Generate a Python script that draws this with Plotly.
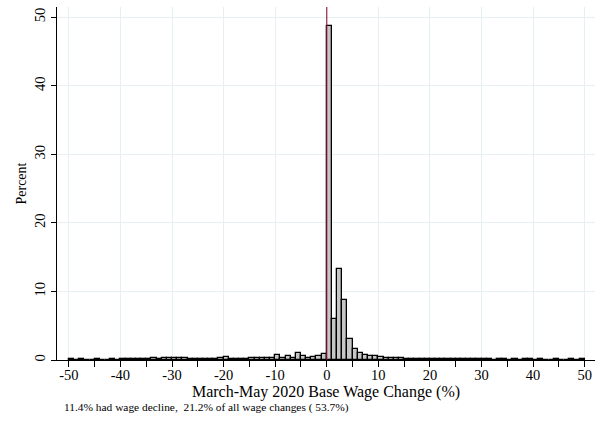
import plotly.graph_objects as go

# histogram of base wage changes, 1-point bins from -50 to 50
bin_left = list(range(-50, 50))
percent = [
    0.1, 0.05, 0.1, 0.05, 0.05, 0.1, 0.05, 0.05, 0.1, 0.05,
    0.1, 0.1, 0.15, 0.1, 0.15, 0.2, 0.25, 0.2, 0.25, 0.3,
    0.35, 0.3, 0.25, 0.2, 0.2, 0.15, 0.15, 0.2, 0.15, 0.3,
    0.4, 0.15, 0.15, 0.2, 0.15, 0.3, 0.35, 0.3, 0.3, 0.3,
    0.73, 0.3, 0.65, 0.3, 1.07, 0.65, 0.3, 0.4, 0.55, 0.85,
    48.7, 6.05, 13.26, 8.72, 3.05, 1.6, 1.0, 0.78, 0.54, 0.54,
    0.5, 0.3, 0.3, 0.25, 0.25, 0.2, 0.2, 0.2, 0.15, 0.2,
    0.15, 0.15, 0.1, 0.15, 0.1, 0.1, 0.15, 0.1, 0.1, 0.15,
    0.1, 0.1, 0.05, 0.1, 0.1, 0.05, 0.1, 0.05, 0.1, 0.1,
    0.05, 0.1, 0.05, 0.05, 0.1, 0.05, 0.05, 0.1, 0.05, 0.1,
]
x_ticks = list(range(-50, 51, 10))
x_labels = [str(v) for v in x_ticks]  # plain hyphen, like the original
y_ticks = list(range(0, 51, 10))
note = "11.4% had wage decline,  21.2% of all wage changes ( 53.7%)"

font = "Liberation Serif, Times New Roman, serif"

fig = go.Figure(go.Bar(
    x=[b + 0.5 for b in bin_left], y=percent, width=1,
    marker=dict(color="#c6c6c6", line=dict(color="black", width=1.3)),
))

fig.add_shape(type="line", x0=0, x1=0, y0=0, y1=1, xref="x", yref="paper",
              line=dict(color="#8c1538", width=1.1), layer="above")

fig.add_annotation(text=note, xref="paper", yref="paper", x=0.01, y=-0.134,
                   xanchor="left", yanchor="middle", showarrow=False,
                   font=dict(family=font, size=11.4, color="black"))

fig.update_layout(
    width=600, height=423,
    margin=dict(l=57, r=5, t=7, b=63),
    paper_bgcolor="white", plot_bgcolor="white",
    showlegend=False,
    font=dict(family=font, color="black", size=14),
    bargap=0,
)
fig.update_xaxes(
    range=[-52.3, 52], tickvals=x_ticks, ticktext=x_labels, ticks="outside",
    ticklen=6, tickcolor="black", showline=True, linecolor="black", linewidth=1,
    showgrid=True, gridcolor="#e6eff1", gridwidth=1, zeroline=False,
    minor=dict(tickvals=list(range(-45, 50, 10)), ticks="outside", ticklen=6,
               tickcolor="black", showgrid=False),
    title=dict(text="March-May 2020 Base Wage Change (%)", standoff=0,
               font=dict(size=16)),
    tickfont=dict(size=14.5), ticklabelstandoff=-4,
)
fig.update_yaxes(
    range=[0, 51.5], tickvals=y_ticks, ticks="outside", ticklen=5,
    tickcolor="black", showline=True, linecolor="black", linewidth=1,
    showgrid=True, gridcolor="#e6eff1", gridwidth=1, zeroline=False,
    tickangle=-90, title=dict(text="Percent", standoff=2, font=dict(size=14)),
    tickfont=dict(size=14.5),
)

fig.write_html("out.html", config={"displayModeBar": False},
               post_script="document.body.style.margin='0';")
